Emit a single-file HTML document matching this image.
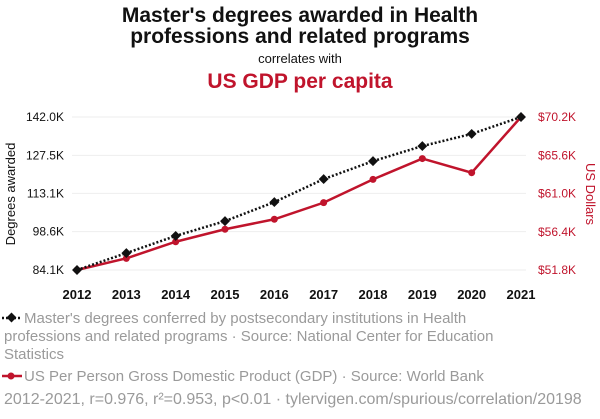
<!DOCTYPE html>
<html><head><meta charset="utf-8"><style>
body{margin:0;background:#fff;width:600px;height:414px;overflow:hidden;font-family:"Liberation Sans",sans-serif}
</style></head><body>
<svg id="chart" width="600" height="414" viewBox="0 0 600 414">
<text x="300" y="22" text-anchor="middle" font-size="21" font-weight="bold" fill="#111">Master's degrees awarded in Health</text>
<text x="300" y="43" text-anchor="middle" font-size="21" font-weight="bold" fill="#111">professions and related programs</text>
<text x="300" y="63" text-anchor="middle" font-size="13" fill="#111">correlates with</text>
<text x="300" y="88" text-anchor="middle" font-size="21" font-weight="bold" fill="#c0142c">US GDP per capita</text>
<g id="grid"></g><g id="axes"></g><g id="series"></g>
<text transform="translate(15,194) rotate(-90)" text-anchor="middle" font-size="13" fill="#111">Degrees awarded</text>
<text transform="translate(586,194) rotate(90)" text-anchor="middle" font-size="13" fill="#c0142c">US Dollars</text>
<g>
<line x1="2" y1="318" x2="22" y2="318" stroke="#111" stroke-width="2.5" stroke-dasharray="2,2"/>
<rect x="8" y="314" width="7" height="7" transform="rotate(45 11.5 317.5)" fill="#111"/>
<text font-size="15" fill="#9a9a9a"><tspan x="24" y="323">Master's degrees conferred by postsecondary institutions in Health</tspan><tspan x="4" y="341">professions and related programs · Source: National Center for Education</tspan><tspan x="4" y="359">Statistics</tspan></text>
</g>
<g>
<line x1="2" y1="376" x2="22" y2="376" stroke="#c0142c" stroke-width="2.5"/>
<circle cx="11" cy="376" r="3.5" fill="#c0142c"/>
<text x="24" y="381" font-size="15" fill="#9a9a9a">US Per Person Gross Domestic Product (GDP) · Source: World Bank</text>
</g>
<text x="4" y="404" font-size="16" fill="#9a9a9a">2012-2021, r=0.976, r²=0.953, p&lt;0.01 · tylervigen.com/spurious/correlation/20198</text>
</svg>
<script>
const years=[2012,2013,2014,2015,2016,2017,2018,2019,2020,2021];
const degrees=[84.1,90.5,97.0,102.6,109.8,118.5,125.3,131.0,135.6,142.0];
const gdp=[51.8,53.2,55.2,56.7,57.9,59.9,62.7,65.2,63.5,70.2];
const leftTicks=[84.1,98.6,113.1,127.5,142.0];
const rightTicks=[51.8,56.4,61.0,65.6,70.2];
const NS="http://www.w3.org/2000/svg";
const x=i=>77+i*(521-77)/(years.length-1);
const yl=v=>270-(v-84.1)/(142.0-84.1)*153;
const yr=v=>270-(v-51.8)/(70.2-51.8)*153;
function mk(t,a,p){const e=document.createElementNS(NS,t);for(const k in a)e.setAttribute(k,a[k]);p.appendChild(e);return e;}
const grid=document.getElementById('grid'),axes=document.getElementById('axes'),ser=document.getElementById('series');
leftTicks.forEach((v,i)=>{
 const g=mk('line',{x1:72,x2:526,y1:yl(v),y2:yl(v),stroke:'#eee','stroke-width':1},grid);
 
 
 const t=mk('text',{x:64,y:yl(v)+4,'text-anchor':'end','font-size':12,fill:'#111'},axes);t.textContent=v.toFixed(1)+'K';
 
 
});
rightTicks.forEach(v=>{
 const t=mk('text',{x:538,y:yr(v)+4,'font-size':12,fill:'#c0142c'},axes);t.textContent='$'+v.toFixed(1)+'K';
 
 
});
years.forEach((yv,i)=>{
 const t=mk('text',{x:x(i),y:299,'text-anchor':'middle','font-size':13,'font-weight':'bold',fill:'#111'},axes);t.textContent=yv;
 
 
});
const rl=mk('polyline',{points:gdp.map((v,i)=>x(i)+','+yr(v)).join(' '),fill:'none',stroke:'#c0142c','stroke-width':2.5},ser);


gdp.forEach((v,i)=>{const c=mk('circle',{cx:x(i),cy:yr(v),r:3.5,fill:'#c0142c'},ser);
 
 });
const bl=mk('polyline',{points:degrees.map((v,i)=>x(i)+','+yl(v)).join(' '),fill:'none',stroke:'#111','stroke-width':2.5,'stroke-dasharray':'2,2'},ser);


degrees.forEach((v,i)=>{const r=mk('rect',{x:x(i)-3.5,y:yl(v)-3.5,width:7,height:7,fill:'#111',transform:`rotate(45 ${x(i)} ${yl(v)})`},ser);
 
 });
</script>
</body></html>
